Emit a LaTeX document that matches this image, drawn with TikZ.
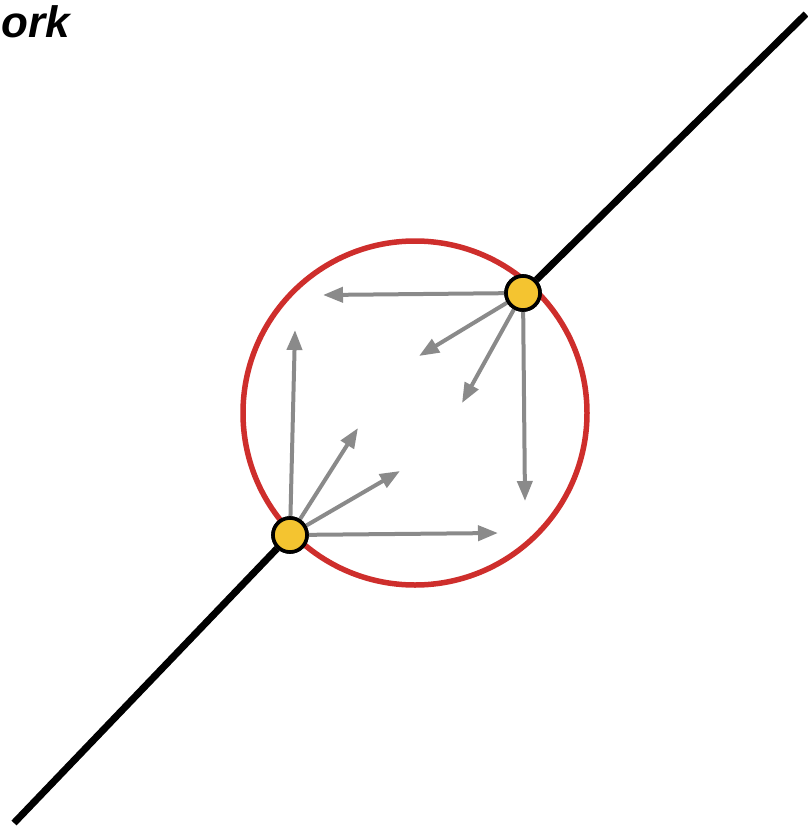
\documentclass[tikz,border=0pt]{standalone}
\usepackage{fontspec}
\setmainfont{Liberation Sans}
\usetikzlibrary{arrows.meta}
\definecolor{ringred}{RGB}{206,46,44}
\definecolor{dotyellow}{RGB}{244,196,48}
\definecolor{flowgray}{RGB}{138,138,138}
\tikzset{
  peer/.style={circle,draw=black,line width=3.6pt,fill=dotyellow,minimum size=34pt,inner sep=0pt},
  flow/.style={flowgray,line width=4pt,-{Triangle[length=20pt,width=15pt]}},
  link/.style={black,line width=7pt}
}

\begin{document}
\begin{tikzpicture}[x=1pt,y=-1pt]
\useasboundingbox (0,0) rectangle (808,827);
\node[anchor=base west,inner sep=0pt,font=\bfseries\itshape\fontsize{44}{44}\selectfont] (title) at (1,37) {ork};
\coordinate (C) at (415,413);
\coordinate (L0) at (14,823); \coordinate (L1) at (806,14);
\draw[ringred,line width=5.5pt] (C) circle (172);
\node[peer] (A) at (290,535) {}; \node[peer] (B) at (523,293) {};
\draw[link] (L0)--(A); \draw[link] (B)--(L1);
% arrows leaving the lower peer
\coordinate (a1) at (295,330); \coordinate (a2) at (358,428); \coordinate (a3) at (400,471); \coordinate (a4) at (498,533);
\foreach \t in {a1,a2,a3,a4} \draw[flow] (A)--(\t);
% arrows leaving the upper peer
\coordinate (b1) at (323,295); \coordinate (b2) at (419,356); \coordinate (b3) at (462,403); \coordinate (b4) at (525,501);
\foreach \t in {b1,b2,b3,b4} \draw[flow] (B)--(\t);
\node[peer] at (A) {}; \node[peer] at (B) {};
\end{tikzpicture}
\end{document}
